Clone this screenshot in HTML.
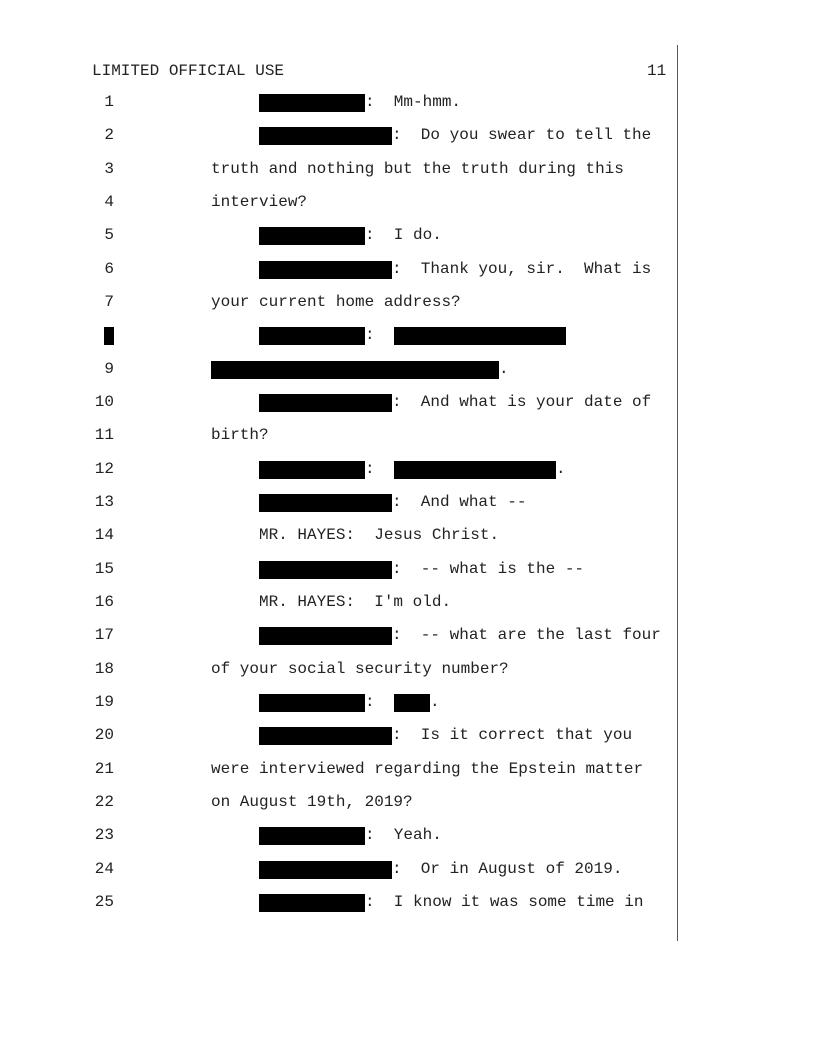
<!DOCTYPE html>
<html><head><meta charset="utf-8"><style>
body{margin:0;background:#fff;}
#p{position:relative;width:816px;height:1056px;overflow:hidden;font-family:"Liberation Mono",monospace;font-size:16px;color:#222;}
.t{position:absolute;white-space:pre;line-height:18px;}
.r{position:absolute;background:#000;height:18px;}
.n{position:absolute;width:40px;text-align:right;white-space:pre;line-height:18px;}
</style></head><body><div id="p">
<div style="position:absolute;left:677px;top:45px;width:1px;height:896px;background:#555"></div>
<div class="t" style="left:92px;top:62px">LIMITED OFFICIAL USE</div>
<div class="t" style="left:647px;top:62px">11</div>
</div>
<script>
var P=document.getElementById('p');
function ty(i){return 93+(i-1)*33.33;}
function add(cls,left,t,txt,w){var d=document.createElement('div');d.className=cls;d.style.left=left+'px';d.style.top=t+'px';if(w)d.style.width=w+'px';if(txt!=null)d.textContent=txt;P.appendChild(d);}
var S=[259,106],L=[259,133];
var data=[
[1,S,"  Mm-hmm."],[2,L,"  Do you swear to tell the"],[3,null,"truth and nothing but the truth during this"],
[4,null,"interview?"],[5,S,"  I do."],[6,L,"  Thank you, sir.  What is"],[7,null,"your current home address?"],
[8,S,""],[9,null,""],[10,L,"  And what is your date of"],[11,null,"birth?"],[12,S,""],[13,L,"  And what --"],
[14,null,"     MR. HAYES:  Jesus Christ."],[15,L,"  -- what is the --"],[16,null,"     MR. HAYES:  I'm old."],
[17,L,"  -- what are the last four"],[18,null,"of your social security number?"],[19,S,""],
[20,L,"  Is it correct that you"],[21,null,"were interviewed regarding the Epstein matter"],
[22,null,"on August 19th, 2019?"],[23,S,"  Yeah."],[24,L,"  Or in August of 2019."],[25,S,"  I know it was some time in"]];
data.forEach(function(d){
 var i=d[0],t=ty(i);
 if(i==8){add('r',104,t+1,null,10);}else add('n',74,t,String(i));
 if(d[1]){add('r',d[1][0],t+1,null,d[1][1]);add('t',d[1][0]+d[1][1],t,":"+d[2]);}
 else if(i!=9) add('t',211,t,d[2]);
});
var t8=ty(8);add('r',394,t8+1,null,172);
var t9=ty(9);add('r',211,t9+1,null,288);add('t',499,t9,".");
var t12=ty(12);add('r',394,t12+1,null,162);add('t',556,t12,".");
var t19=ty(19);add('r',394,t19+1,null,36);add('t',430,t19,".");
</script>
</body></html>
